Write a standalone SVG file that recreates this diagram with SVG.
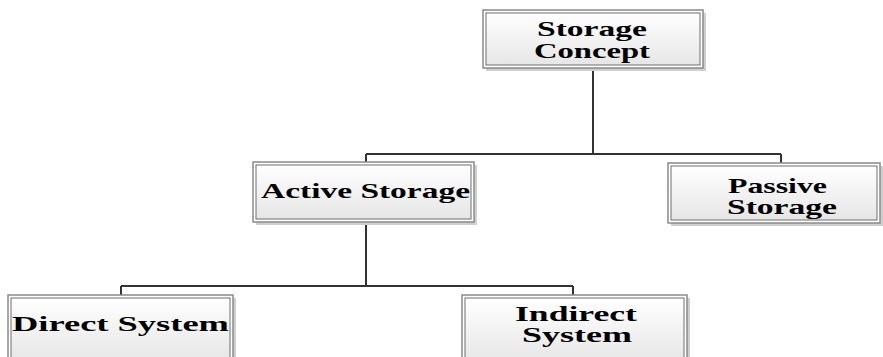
<svg xmlns="http://www.w3.org/2000/svg" width="883" height="357" viewBox="0 0 883 357">
<defs>
<linearGradient id="g" x1="0" y1="0" x2="0" y2="1">
<stop offset="0" stop-color="#ffffff"/>
<stop offset="1" stop-color="#e6e6e6"/>
</linearGradient>
</defs>
<style>
.sh{fill:#cfcfcf}
.out{fill:#ffffff;stroke:#8a8a8a;stroke-width:1.5}
.in{fill:url(#g);stroke:#6e6e6e;stroke-width:1}
.t{font-family:"Liberation Serif","Times New Roman",serif;font-weight:bold;font-size:21px;fill:#000}
.c{fill:none;stroke:#333;stroke-width:2}
</style>
<rect width="883" height="357" fill="#ffffff"/>
<g id="connectors">
<path class="c" d="M593 68V154M366 154H781M366 154V163M781 154V164"/>
<path class="c" d="M366 222V286M121 286H573M121 286V295M573 286V295"/>
</g>
<g id="storage-concept">
<rect class="sh" x="486" y="13" width="220" height="58"/>
<rect class="out" x="483" y="10" width="220" height="58"/>
<rect class="in" x="486" y="13" width="214" height="52"/>
<text class="t" x="537" y="36" textLength="110" lengthAdjust="spacingAndGlyphs">Storage</text>
<text class="t" x="534" y="58" textLength="116" lengthAdjust="spacingAndGlyphs">Concept</text>
</g>
<g id="active-storage">
<rect class="sh" x="256" y="165" width="221" height="60"/>
<rect class="out" x="253" y="162" width="221" height="60"/>
<rect class="in" x="256" y="165" width="215" height="54"/>
<text class="t" x="261" y="198" textLength="209" lengthAdjust="spacingAndGlyphs">Active Storage</text>
</g>
<g id="passive-storage">
<rect class="sh" x="671" y="166" width="212" height="60"/>
<rect class="out" x="668" y="163" width="212" height="60"/>
<rect class="in" x="671" y="166" width="206" height="54"/>
<text class="t" x="728" y="193" textLength="99" lengthAdjust="spacingAndGlyphs">Passive</text>
<text class="t" x="727" y="214" textLength="110" lengthAdjust="spacingAndGlyphs">Storage</text>
</g>
<g id="direct-system">
<rect class="sh" x="11" y="298" width="225" height="70"/>
<rect class="out" x="8" y="295" width="225" height="70"/>
<rect class="in" x="11" y="298" width="219" height="64"/>
<text class="t" x="12" y="331" textLength="217" lengthAdjust="spacingAndGlyphs">Direct System</text>
</g>
<g id="indirect-system">
<rect class="sh" x="465" y="298" width="225" height="70"/>
<rect class="out" x="462" y="295" width="225" height="70"/>
<rect class="in" x="465" y="298" width="219" height="64"/>
<text class="t" x="515" y="321" textLength="122" lengthAdjust="spacingAndGlyphs">Indirect</text>
<text class="t" x="522" y="342" textLength="110" lengthAdjust="spacingAndGlyphs">System</text>
</g>
</svg>
